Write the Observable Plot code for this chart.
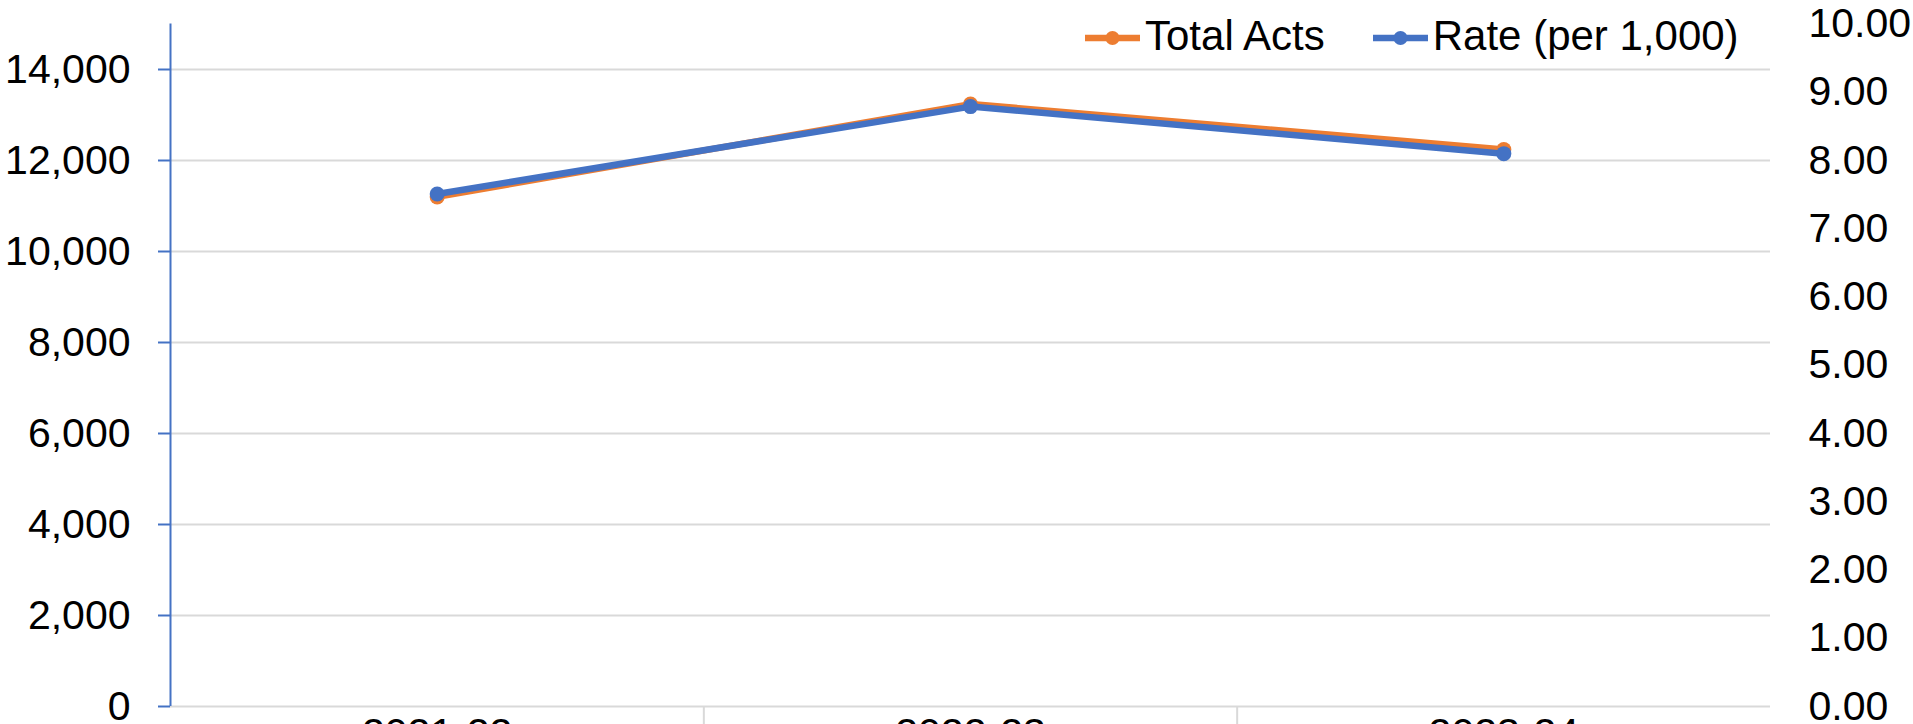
<!DOCTYPE html>
<html>
<head>
<meta charset="utf-8">
<script src="https://cdn.jsdelivr.net/npm/d3@7"></script>
<script src="https://cdn.jsdelivr.net/npm/@observablehq/plot@0.6"></script>
<style>
  html, body { margin: 0; padding: 0; background: #fff; overflow: hidden; }
  #wrap { position: relative; width: 1913px; height: 724px; font-family: "Liberation Sans", Arial, sans-serif; }
  #legend { position: absolute; left: 1085px; top: 15px; display: flex; align-items: center; font-size: 42px; line-height: 42px; color: #000; white-space: nowrap; }
  #legend .item { display: flex; align-items: center; }
  #legend .item + .item { margin-left: 48px; }
  #legend svg { display: block; margin-right: 5px; }
</style>
</head>
<body>
<div id="wrap"><div id="chart"></div><div id="legend"></div></div>
<script>
// ---- data ----
const years = ["2021-22", "2022-23", "2023-24"];
const totalActs = [11200, 13240, 12240];
const ratePer1000 = [7.51, 8.79, 8.10];
const leftTicks = [0, 2000, 4000, 6000, 8000, 10000, 12000, 14000];
const rightTicks = [0, 1, 2, 3, 4, 5, 6, 7, 8, 9, 10];
const seriesNames = ["Total Acts", "Rate (per 1,000)"];
const seriesColors = ["#ED7D31", "#4472C4"];

// ---- derived ----
const leftMax = 15000, rightMax = 10;
const k = leftMax / rightMax; // right-axis units -> left-axis units
const rows = years.map((y, i) => ({i: i + 0.5, year: y, total: totalActs[i], rate: ratePer1000[i], rateY: ratePer1000[i] * k}));

const font = '"Liberation Sans", Arial, sans-serif';

const chart = Plot.plot({
  width: 1913,
  height: 724,
  marginLeft: 170,
  marginRight: 143,
  marginTop: 23.5,
  marginBottom: 18,
  style: {fontFamily: font, background: "#fff", color: "#000"},
  x: {domain: [0, years.length], axis: null, label: null},
  y: {domain: [0, leftMax], axis: null, label: null},
  marks: [
    Plot.gridY(leftTicks, {stroke: "#d9d9d9", strokeOpacity: 1, strokeWidth: 2}),
    Plot.axisX({ticks: d3.range(1, years.length), tickSize: 22, tickFormat: () => "", label: null, stroke: "#d9d9d9", strokeWidth: 2}),
    Plot.axisX({ticks: rows.map(d => d.i), tickSize: 0, tickPadding: 11, fontSize: 41, fill: "#000", label: null,
      tickFormat: v => years[Math.floor(v)]}),
    Plot.axisY({ticks: leftTicks, tickSize: 12, tickPadding: 28, fontSize: 41, stroke: "#4472C4", strokeWidth: 2, fill: "#000", label: null,
      tickFormat: d3.format(",")}),
    Plot.axisY({anchor: "right", ticks: rightTicks.map(t => t * k), tickSize: 0, tickPadding: 38, fontSize: 41, fill: "#000", label: null,
      tickFormat: v => (v / k).toFixed(2)}),
    Plot.ruleX([0], {stroke: "#4472C4", strokeWidth: 2}),
    Plot.line(rows, {x: "i", y: "total", stroke: seriesColors[0], strokeWidth: 6.5, strokeLinejoin: "round"}),
    Plot.dot(rows, {x: "i", y: "total", r: 7.5, fill: seriesColors[0], stroke: "none"}),
    Plot.line(rows, {x: "i", y: "rateY", stroke: seriesColors[1], strokeWidth: 6.5, strokeLinejoin: "round"}),
    Plot.dot(rows, {x: "i", y: "rateY", r: 7.5, fill: seriesColors[1], stroke: "none"})
  ]
});
document.getElementById("chart").appendChild(chart);

// ---- legend ----
const legend = document.getElementById("legend");
seriesNames.forEach((name, j) => {
  const item = document.createElement("div");
  item.className = "item";
  item.innerHTML = `<svg width="55" height="42"><line x1="1" x2="54" y1="23" y2="23" stroke="${seriesColors[j]}" stroke-width="6.5" stroke-linecap="round"/><circle cx="27.5" cy="23" r="7" fill="${seriesColors[j]}"/></svg><span>${name}</span>`;
  legend.appendChild(item);
});
</script>
</body>
</html>
